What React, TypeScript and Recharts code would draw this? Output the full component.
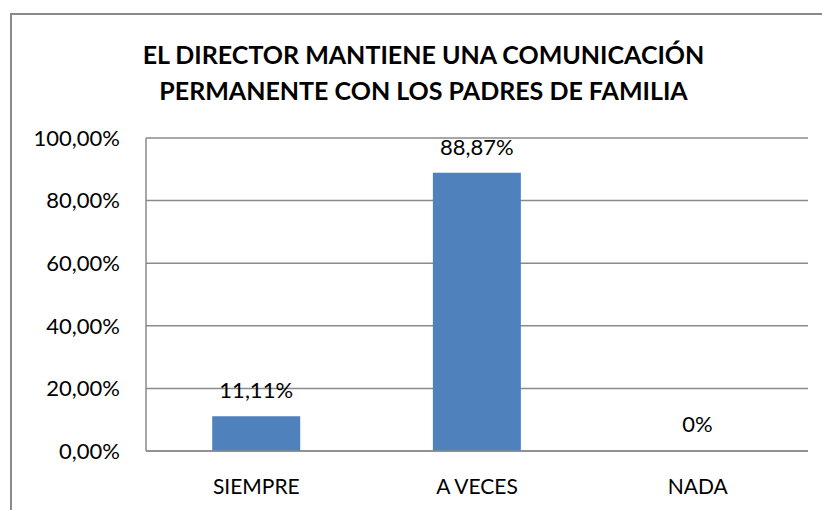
import React from 'react';
import { BarChart, Bar, XAxis, YAxis, CartesianGrid, LabelList, Rectangle } from 'recharts';

const categories = ['SIEMPRE', 'A VECES', 'NADA'];
const percentages = [0.1111, 0.8887, 0];
const yTicks = [0, 0.2, 0.4, 0.6, 0.8, 1];
const titleLines = ['EL DIRECTOR MANTIENE UNA COMUNICACIÓN', 'PERMANENTE CON LOS PADRES DE FAMILIA'];

const data = categories.map((name, i) => ({ name, value: percentages[i] }));

const FONT = 'Lato, "Open Sans", sans-serif';
const GRID = '#8a8a8a';

const fmtTick = (v: number) => `${(v * 100).toFixed(2).replace('.', ',')}%`;
const fmtLabel = (v: any) => (Number(v) === 0 ? '0%' : `${(Number(v) * 100).toFixed(2).replace('.', ',')}%`);

// drawn by hand so the zero-height bar still gets its "0%"
const renderValueLabel = (props: any) => {
    const { x, y, width, value } = props;
    if (x == null || y == null) return null;
    return (
        <text x={Number(x) + Number(width) / 2} y={Number(y) - 18} textAnchor="middle" fill="#000" fontSize={22} fontFamily={FONT}>
            {fmtLabel(value)}
        </text>
    );
};

// zero bars get a 1px min size so their label shows, but the stub itself is hidden
const renderBar = (props: any) => {
    if (props.value === 0 || (props.payload && props.payload.value === 0)) return <g />;
    return <Rectangle {...props} />;
};

export default function App() {
    return (
        <div style={{ position: 'absolute', left: 0, top: 0, width: 822, height: 510, overflow: 'hidden', background: '#fff', fontFamily: FONT }}>
            {/* chart frame, runs off the right and bottom edges */}
            <div style={{ position: 'absolute', left: 10, top: 13, width: 830, height: 520, border: `2px solid ${GRID}`, boxSizing: 'border-box' }} />
            <div style={{ position: 'absolute', left: 0, width: 847, top: 36, textAlign: 'center', fontWeight: 700, fontSize: 25, lineHeight: '36px', color: '#000' }}>
                {titleLines.map((t) => <div key={t}>{t}</div>)}
            </div>
            <BarChart
                width={822}
                height={510}
                data={data}
                margin={{ top: 138, right: 14, bottom: 0, left: 0 }}
                barCategoryGap="30%"
                style={{ position: 'absolute', left: 0, top: 0 }}
            >
                <CartesianGrid vertical={false} stroke={GRID} strokeWidth={1.5} />
                <XAxis
                    dataKey="name"
                    height={59}
                    axisLine={{ stroke: GRID, strokeWidth: 1.5 }}
                    tickLine={false}
                    tickSize={0}
                    tickMargin={28}
                    tick={{ fill: '#000', fontSize: 21, fontFamily: FONT }}
                />
                <YAxis
                    width={146}
                    domain={[0, 1]}
                    ticks={yTicks}
                    tickFormatter={fmtTick}
                    axisLine={{ stroke: GRID, strokeWidth: 1.5 }}
                    tickLine={false}
                    tickSize={0}
                    tickMargin={26}
                    tick={{ fill: '#000', fontSize: 22, fontFamily: FONT }}
                />
                <Bar dataKey="value" fill="#4F81BD" minPointSize={1} shape={renderBar} isAnimationActive={false}>
                    <LabelList dataKey="value" content={renderValueLabel} />
                </Bar>
            </BarChart>
        </div>
    );
}
